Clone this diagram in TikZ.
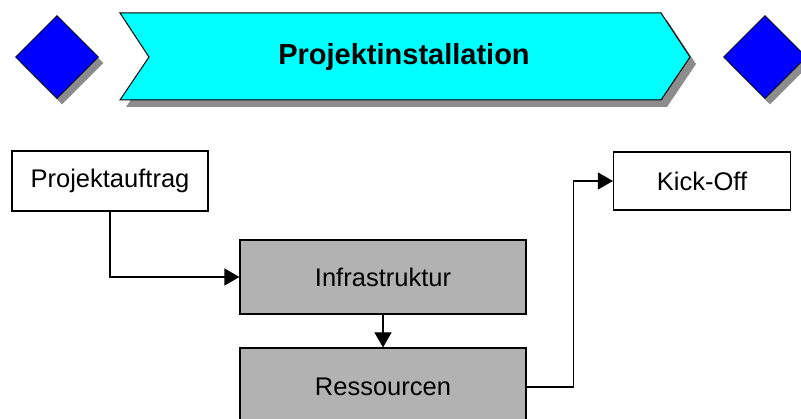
\documentclass[tikz,border=0pt]{standalone}
\usepackage{fontspec}
\setmainfont{Liberation Sans}
\usetikzlibrary{arrows.meta,positioning,shapes.geometric,shadows}
\definecolor{tuerkis}{RGB}{0,255,255}
\definecolor{ereignisblau}{RGB}{0,0,255}

\begin{document}
\begin{tikzpicture}[
    x=1pt, y=-1pt,
    ereignis/.style={diamond, draw=black, fill=ereignisblau, line width=0.8pt, minimum width=83pt, minimum height=83pt, inner sep=0pt,
        drop shadow={shadow xshift=5pt, shadow yshift=-6pt, fill=gray!90, opacity=1}},
    box/.style={draw, line width=1.2pt, font=\fontsize{25.5}{30}\selectfont, inner sep=0pt},
    arr/.style={-{Triangle[length=15pt,width=17pt]}, line width=1.2pt}
]
\path[use as bounding box, clip] (0,0) rectangle (801,419);

% Kopfzeile
\node[ereignis] (start) at (57,57) {};
\node[ereignis] (ende) at (765,57) {};
\fill[gray!90] (126,20) -- (667,20) -- (696,64) -- (667,107) -- (126,107) -- (155,64) -- cycle;
\draw[fill=tuerkis, line width=1pt] (120,13) -- (661,13) -- (690,57) -- (661,100) -- (120,100) -- (149,57) -- cycle;
\node[font=\fontsize{29}{34}\selectfont\bfseries] (phase) at (404,57) {Projektinstallation};

% Ablauf
\node[box, fill=white, minimum width=196pt, minimum height=60pt] (auftrag) at (110,181) {Projektauftrag};
\node[box, fill=white, minimum width=177pt, minimum height=58pt] (kickoff) at (702,181) {Kick-Off};
\node[box, fill=gray!60, minimum width=286pt, minimum height=74pt] (infra) at (383,277) {Infrastruktur};
\node[box, fill=gray!60, minimum width=286pt, minimum height=78pt] (ress) at (383,387) {Ressourcen};

\draw[arr] (auftrag.south) |- (infra.west);
\draw[arr] (infra.south) -- (ress.north);
\draw[arr] (ress.east) -- ++(47,0) |- (kickoff.west);
\end{tikzpicture}
\end{document}
